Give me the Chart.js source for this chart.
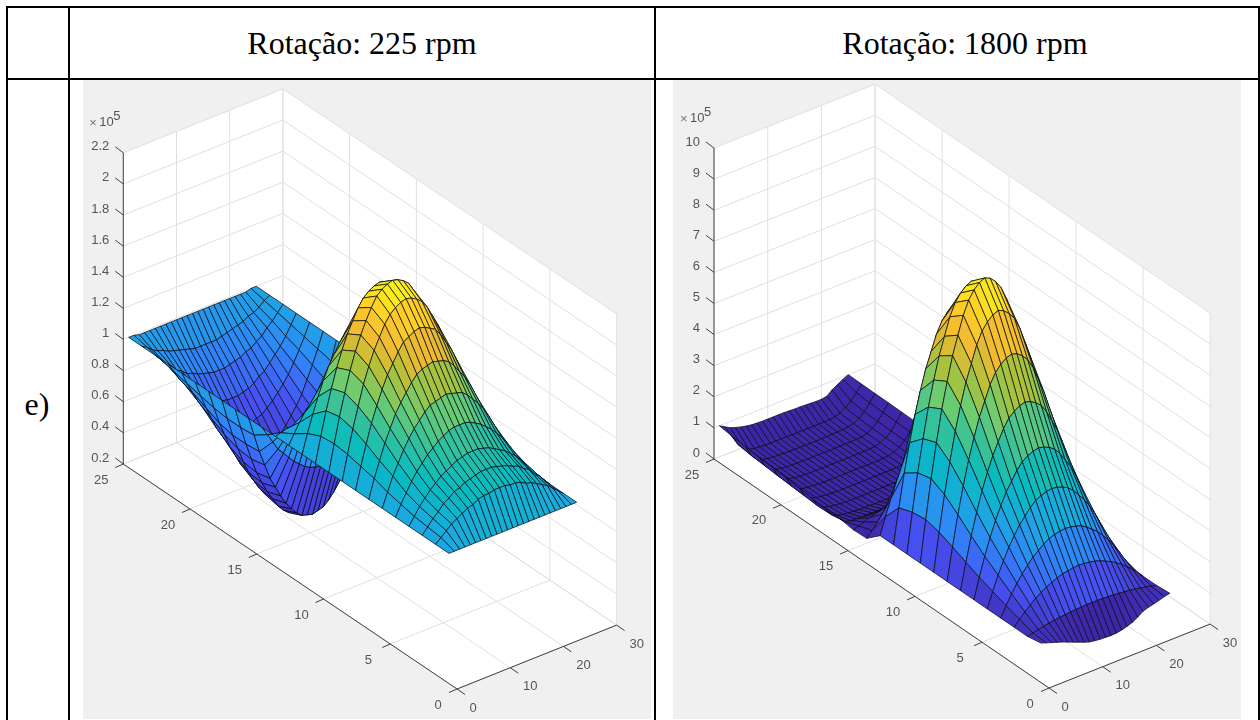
<!DOCTYPE html>
<html>
<head>
<meta charset="utf-8">
<script src="https://cdn.jsdelivr.net/npm/chart.js@4/dist/chart.umd.min.js"></script>
<style>
  html, body { margin: 0; padding: 0; background: #fff; width: 1260px; height: 720px; overflow: hidden; }
  .line { position: absolute; background: #000; }
  .label { position: absolute; font-family: "Liberation Serif", serif; color: #000; white-space: nowrap; text-align: center; }
  canvas { position: absolute; }
</style>
</head>
<body>
<div class="line" style="left:6px;top:6px;width:1254px;height:2px"></div>
<div class="line" style="left:6px;top:78px;width:1254px;height:2px"></div>
<div class="line" style="left:6px;top:6px;width:2px;height:714px"></div>
<div class="line" style="left:68px;top:6px;width:2px;height:714px"></div>
<div class="line" style="left:654px;top:6px;width:2px;height:714px"></div>
<div class="line" style="left:1258px;top:6px;width:2px;height:714px"></div>
<div class="label" style="left:70px;width:584px;top:25px;font-size:32px;line-height:36px">Rotação: 225 rpm</div>
<div class="label" style="left:664px;width:602px;top:25px;font-size:32px;line-height:36px">Rotação: 1800 rpm</div>
<div class="label" style="left:7px;width:60px;top:386px;font-size:32px;line-height:36px">e)</div>
<canvas id="chart225" width="568" height="639" style="left:83px;top:80px"></canvas>
<canvas id="chart1800" width="568" height="639" style="left:673px;top:80px"></canvas>
<script>
// grid positions
const xValues = [1,2,3,4,5,6,7,8,9,10,11,12,13,14,15,16,17,18,19,20,21,22,23,24,25];
const yValues = [1,2,3,4,5,6,7,8,9,10,11,12,13,14,15,16,17,18,19,20,21,22,23,24,25];

// heights, x 10^5, one row per y value
const pressure225 = [
  [1,1,1,1,1,1,1,1,1,1,1,1,1,1,1,1,1,1,1,1,1,1,1,1,1],
  [1,1.03,1.06,1.09,1.11,1.13,1.15,1.16,1.18,1.19,1.19,1.2,1.2,1.2,1.19,1.19,1.18,1.16,1.15,1.13,1.11,1.09,1.06,1.03,1],
  [1,1.04,1.08,1.11,1.15,1.17,1.2,1.21,1.23,1.24,1.25,1.26,1.26,1.26,1.25,1.24,1.23,1.21,1.2,1.17,1.15,1.11,1.08,1.04,1],
  [1,1.05,1.1,1.14,1.18,1.21,1.24,1.26,1.28,1.3,1.31,1.32,1.32,1.32,1.31,1.3,1.28,1.26,1.24,1.21,1.18,1.14,1.1,1.05,1],
  [1,1.07,1.13,1.19,1.24,1.28,1.32,1.35,1.38,1.4,1.42,1.43,1.43,1.43,1.42,1.4,1.38,1.35,1.32,1.28,1.24,1.19,1.13,1.07,1],
  [1,1.09,1.18,1.25,1.32,1.38,1.43,1.47,1.51,1.54,1.55,1.56,1.57,1.56,1.55,1.54,1.51,1.47,1.43,1.38,1.32,1.25,1.18,1.09,1],
  [1,1.12,1.22,1.32,1.4,1.48,1.54,1.59,1.64,1.68,1.7,1.71,1.72,1.71,1.7,1.68,1.64,1.59,1.54,1.48,1.4,1.32,1.22,1.12,1],
  [1,1.14,1.27,1.39,1.49,1.58,1.66,1.72,1.78,1.83,1.85,1.87,1.88,1.87,1.85,1.83,1.78,1.72,1.66,1.58,1.49,1.39,1.27,1.14,1],
  [1,1.16,1.31,1.44,1.57,1.67,1.76,1.83,1.9,1.95,1.98,2,2.01,2,1.98,1.95,1.9,1.83,1.76,1.67,1.57,1.44,1.31,1.16,1],
  [1,1.17,1.33,1.47,1.6,1.71,1.8,1.88,1.95,2.01,2.04,2.06,2.07,2.06,2.04,2.01,1.95,1.88,1.8,1.71,1.6,1.47,1.33,1.17,1],
  [1,1.16,1.31,1.44,1.56,1.66,1.75,1.82,1.89,1.94,1.97,1.99,2,1.99,1.97,1.94,1.89,1.82,1.75,1.66,1.56,1.44,1.31,1.16,1],
  [1,1.12,1.23,1.33,1.42,1.5,1.56,1.62,1.67,1.71,1.73,1.74,1.75,1.74,1.73,1.71,1.67,1.62,1.56,1.5,1.42,1.33,1.23,1.12,1],
  [1,1.06,1.12,1.17,1.21,1.25,1.29,1.31,1.34,1.36,1.37,1.38,1.38,1.38,1.37,1.36,1.34,1.31,1.29,1.25,1.21,1.17,1.12,1.06,1],
  [1,1.01,1.02,1.02,1.03,1.03,1.04,1.04,1.04,1.05,1.05,1.05,1.05,1.05,1.05,1.05,1.04,1.04,1.04,1.03,1.03,1.02,1.02,1.01,1],
  [1,.94,.88,.82,.78,.74,.7,.67,.64,.62,.61,.6,.6,.6,.61,.62,.64,.67,.7,.74,.78,.82,.88,.94,1],
  [1,.88,.76,.66,.56,.49,.42,.36,.31,.27,.24,.23,.22,.23,.24,.27,.31,.36,.42,.49,.56,.66,.76,.88,1],
  [1,.87,.75,.64,.54,.46,.39,.33,.27,.23,.2,.19,.18,.19,.2,.23,.27,.33,.39,.46,.54,.64,.75,.87,1],
  [1,.87,.75,.65,.55,.47,.4,.34,.29,.25,.22,.21,.2,.21,.22,.25,.29,.34,.4,.47,.55,.65,.75,.87,1],
  [1,.88,.77,.68,.59,.52,.45,.4,.35,.31,.29,.28,.27,.28,.29,.31,.35,.4,.45,.52,.59,.68,.77,.88,1],
  [1,.9,.81,.73,.65,.59,.54,.49,.45,.42,.4,.39,.38,.39,.4,.42,.45,.49,.54,.59,.65,.73,.81,.9,1],
  [1,.92,.85,.78,.72,.67,.63,.59,.56,.53,.52,.5,.5,.5,.52,.53,.56,.59,.63,.67,.72,.78,.85,.92,1],
  [1,.94,.88,.83,.79,.75,.71,.69,.66,.64,.63,.62,.62,.62,.63,.64,.66,.69,.71,.75,.79,.83,.88,.94,1],
  [1,.96,.92,.89,.85,.83,.8,.79,.77,.76,.75,.74,.74,.74,.75,.76,.77,.79,.8,.83,.85,.89,.92,.96,1],
  [1,.98,.95,.93,.92,.9,.89,.88,.87,.86,.85,.85,.85,.85,.85,.86,.87,.88,.89,.9,.92,.93,.95,.98,1],
  [1,1,.99,.99,.99,.99,.99,.99,.99,.99,.99,.99,.99,.99,.99,.99,.99,.99,.99,.99,.99,.99,.99,1,1]
];

const pressure1800 = [
  [1.08,1.02,.96,.9,.84,.77,.7,.63,.56,.5,.47,.45,.44,.43,.44,.47,.52,.58,.68,.8,.86,.9,.95,1,1.04],
  [1,1.04,1.08,1.12,1.15,1.18,1.2,1.22,1.24,1.25,1.26,1.27,1.27,1.27,1.26,1.25,1.24,1.22,1.2,1.18,1.15,1.12,1.08,1.04,1],
  [1,1.19,1.36,1.51,1.66,1.77,1.88,1.96,2.04,2.1,2.13,2.16,2.17,2.16,2.13,2.1,2.04,1.96,1.88,1.77,1.66,1.51,1.36,1.19,1],
  [1,1.33,1.64,1.91,2.15,2.36,2.55,2.69,2.83,2.94,3,3.04,3.06,3.04,3,2.94,2.83,2.69,2.55,2.36,2.15,1.91,1.64,1.33,1],
  [1,1.49,1.95,2.34,2.71,3.01,3.29,3.5,3.71,3.87,3.96,4.02,4.05,4.02,3.96,3.87,3.71,3.5,3.29,3.01,2.71,2.34,1.95,1.49,1],
  [1,1.65,2.26,2.79,3.27,3.68,4.05,4.33,4.61,4.82,4.94,5.02,5.06,5.02,4.94,4.82,4.61,4.33,4.05,3.68,3.27,2.79,2.26,1.65,1],
  [1,1.84,2.62,3.31,3.93,4.46,4.93,5.3,5.66,5.93,6.08,6.19,6.24,6.19,6.08,5.93,5.66,5.3,4.93,4.46,3.93,3.31,2.62,1.84,1],
  [1,2.04,3.01,3.86,4.63,5.28,5.87,6.32,6.78,7.1,7.3,7.43,7.49,7.43,7.3,7.1,6.78,6.32,5.87,5.28,4.63,3.86,3.01,2.04,1],
  [1,2.22,3.36,4.34,5.26,6.02,6.7,7.23,7.76,8.14,8.37,8.52,8.6,8.52,8.37,8.14,7.76,7.23,6.7,6.02,5.26,4.34,3.36,2.22,1],
  [1,2.33,3.58,4.67,5.68,6.5,7.26,7.85,8.42,8.84,9.1,9.27,9.35,9.27,9.1,8.84,8.42,7.85,7.26,6.5,5.68,4.67,3.58,2.33,1],
  [1,2.27,3.47,4.5,5.45,6.25,6.96,7.52,8.08,8.47,8.71,8.87,8.95,8.87,8.71,8.47,8.08,7.52,6.96,6.25,5.45,4.5,3.47,2.27,1],
  [1,2.12,3.17,4.08,4.92,5.62,6.25,6.74,7.23,7.58,7.79,7.93,8,7.93,7.79,7.58,7.23,6.74,6.25,5.62,4.92,4.08,3.17,2.12,1],
  [1,1.54,2.05,2.5,2.9,3.24,3.55,3.79,4.03,4.2,4.3,4.37,4.4,4.37,4.3,4.2,4.03,3.79,3.55,3.24,2.9,2.5,2.05,1.54,1],
  [.62,.8,1,1.2,1.4,1.55,1.7,1.85,1.95,2.05,2.12,2.18,2.2,2.18,2.12,2.05,1.95,1.85,1.7,1.55,1.4,1.2,1,.85,.95],
  [.6,.65,.72,.78,.83,.87,.9,.93,.95,.96,.97,.97,.97,.97,.97,.96,.95,.93,.9,.87,.83,.78,.72,.8,.95],
  [.66,.5,.46,.45,.44,.44,.44,.43,.43,.42,.42,.42,.42,.42,.42,.42,.43,.43,.44,.44,.45,.48,.56,.72,.95],
  [.65,.42,.34,.3,.28,.26,.25,.24,.24,.23,.23,.23,.23,.23,.23,.23,.24,.24,.25,.26,.28,.34,.48,.7,.95],
  [.7,.4,.3,.26,.23,.21,.2,.2,.19,.19,.19,.19,.19,.19,.19,.19,.19,.2,.2,.21,.25,.33,.48,.7,.95],
  [.75,.43,.31,.25,.22,.2,.19,.18,.18,.18,.18,.18,.18,.18,.18,.18,.18,.18,.19,.2,.24,.33,.48,.7,.96],
  [.8,.46,.32,.25,.22,.2,.19,.18,.18,.18,.18,.18,.18,.18,.18,.18,.18,.18,.19,.2,.25,.34,.49,.7,.96],
  [.83,.49,.34,.27,.23,.21,.2,.19,.19,.19,.19,.19,.19,.19,.19,.19,.19,.19,.2,.21,.26,.35,.5,.72,.97],
  [.86,.53,.36,.28,.24,.22,.21,.2,.2,.2,.2,.2,.2,.2,.2,.2,.2,.2,.21,.22,.27,.36,.51,.73,.98],
  [.9,.56,.38,.3,.26,.24,.23,.22,.22,.21,.21,.2,.2,.2,.21,.21,.22,.22,.23,.25,.29,.38,.53,.75,.98],
  [.94,.62,.43,.33,.29,.27,.26,.25,.25,.25,.25,.25,.25,.25,.25,.25,.25,.25,.26,.28,.33,.43,.58,.78,.99],
  [1,.9,.8,.74,.69,.65,.62,.61,.6,.6,.6,.6,.6,.59,.58,.58,.57,.56,.55,.55,.58,.72,.82,.92,1]
];

// axis ticks
const xTicks = [0, 10, 20, 30];
const yTicks = [0, 5, 10, 15, 20, 25];
const zTicks225 = [0.2, 0.4, 0.6, 0.8, 1, 1.2, 1.4, 1.6, 1.8, 2, 2.2];
const zTicks1800 = [0, 1, 2, 3, 4, 5, 6, 7, 8, 9, 10];
const zTickLabels225 = ["0.2", "0.4", "0.6", "0.8", "1", "1.2", "1.4", "1.6", "1.8", "2", "2.2"];
const zTickLabels1800 = ["0", "1", "2", "3", "4", "5", "6", "7", "8", "9", "10"];

// parula colormap stops
const parula = [[62,38,168],[71,82,244],[46,135,247],[27,170,223],[6,187,192],[53,193,155],[110,204,112],[172,193,58],[240,185,50],[252,205,40],[249,251,21]];
// height -> colormap position
const colorZ225 = [0.2, 0.6, 1, 1.4, 2.07];
const colorT225 = [0.02, 0.1, 0.28, 0.52, 1];
const colorZ1800 = [0.85, 9.35];
const colorT1800 = [0, 1];

function lerpTable(v, xs, ys) {
  if (v <= xs[0]) return ys[0];
  for (let i = 1; i < xs.length; i++) {
    if (v <= xs[i]) return ys[i - 1] + (ys[i] - ys[i - 1]) * (v - xs[i - 1]) / (xs[i] - xs[i - 1]);
  }
  return ys[ys.length - 1];
}

function parulaColor(t) {
  const p = Math.min(0.9999, Math.max(0, t)) * (parula.length - 1);
  const i = Math.floor(p), f = p - i;
  const c = parula[i].map((v, k) => Math.round(v + (parula[i + 1][k] - v) * f));
  return "rgb(" + c.join(",") + ")";
}

function makeSurface(id, cfg) {
  const project = (x, y, z) => [
    cfg.ax + x * cfg.ux + (25 - y) * cfg.vx,
    cfg.ay + x * cfg.uy + (25 - y) * cfg.vy - (z - cfg.zMin) * cfg.zPx
  ];
  const points = [];
  yValues.forEach((y, j) => xValues.forEach((x, i) => {
    const p = project(x, y, cfg.rows[j][i]);
    points.push({ x: p[0], y: p[1] });
  }));

  const surfacePlugin = {
    id: "surface3d",
    beforeDatasetsDraw(chart) {
      const ctx = chart.ctx, sx = chart.scales.x, sy = chart.scales.y;
      const at = (x, y, z) => {
        const p = project(x, y, z);
        return [sx.getPixelForValue(p[0]), sy.getPixelForValue(p[1])];
      };
      const poly = (pts) => {
        ctx.beginPath();
        pts.forEach((p, i) => i ? ctx.lineTo(p[0], p[1]) : ctx.moveTo(p[0], p[1]));
      };
      const seg = (a, b) => { poly([a, b]); ctx.stroke(); };
      const zLo = cfg.zTicks[0], zHi = cfg.zTicks[cfg.zTicks.length - 1];

      ctx.save();
      ctx.fillStyle = "#f0f0f0";
      ctx.fillRect(0, 0, chart.width, chart.height);

      // box panes
      ctx.fillStyle = "#fff";
      poly([at(0, 25, zLo), at(0, 25, zHi), at(30, 25, zHi), at(30, 0, zHi), at(30, 0, zLo), at(0, 0, zLo)]);
      ctx.closePath();
      ctx.fill();

      // grid
      ctx.strokeStyle = "#e0e0e0";
      ctx.lineWidth = 1;
      cfg.zTicks.forEach(z => {
        seg(at(0, 25, z), at(30, 25, z));
        seg(at(30, 25, z), at(30, 0, z));
      });
      xTicks.forEach(x => {
        seg(at(x, 25, zLo), at(x, 25, zHi));
        seg(at(x, 25, zLo), at(x, 0, zLo));
      });
      yTicks.forEach(y => {
        seg(at(30, y, zLo), at(30, y, zHi));
        seg(at(0, y, zLo), at(30, y, zLo));
      });

      // axes
      ctx.strokeStyle = "#404040";
      seg(at(0, 25, zLo), at(0, 25, zHi));
      seg(at(0, 25, zLo), at(0, 0, zLo));
      seg(at(0, 0, zLo), at(30, 0, zLo));
      ctx.font = cfg.fontPx + 'px "Liberation Sans", sans-serif';
      ctx.fillStyle = "#555";
      ctx.textBaseline = "middle";
      cfg.zTicks.forEach((z, i) => {
        const p = at(0, 25, z);
        seg(p, [p[0] - 8, p[1] - 6]);
        ctx.textAlign = "right";
        ctx.fillText(cfg.zLabels[i], p[0] - 14, p[1] - 6);
      });
      ctx.textAlign = "center";
      yTicks.forEach(y => {
        const p = at(0, y, zLo);
        seg(p, [p[0] - 8, p[1] + 3.5]);
        ctx.fillText(String(y), p[0] - (y === 0 ? 19 : 22), p[1] + 16);
      });
      xTicks.forEach(x => {
        const p = at(x, 0, zLo);
        seg(p, [p[0] + 8, p[1] + 5.5]);
        ctx.fillText(String(x), p[0] + (x === 0 ? 16 : 20), p[1] + 19);
      });

      // exponent
      const top = at(0, 25, zHi);
      ctx.textAlign = "left";
      ctx.fillStyle = "#777";
      ctx.fillText("×", top[0] - 34, top[1] - 29);
      ctx.fillStyle = "#555";
      ctx.fillText("10", top[0] - 24, top[1] - 30);
      ctx.fillText("5", top[0] - 10, top[1] - 36);

      // surface, far quads first
      ctx.lineJoin = "round";
      ctx.lineWidth = 0.9;
      ctx.strokeStyle = "rgba(10,10,20,0.8)";
      for (let j = yValues.length - 2; j >= 0; j--) {
        for (let i = xValues.length - 2; i >= 0; i--) {
          const z00 = cfg.rows[j][i], z10 = cfg.rows[j][i + 1];
          const z01 = cfg.rows[j + 1][i], z11 = cfg.rows[j + 1][i + 1];
          const t = lerpTable((z00 + z10 + z01 + z11) / 4, cfg.colorZ, cfg.colorT);
          poly([
            at(xValues[i], yValues[j], z00),
            at(xValues[i + 1], yValues[j], z10),
            at(xValues[i + 1], yValues[j + 1], z11),
            at(xValues[i], yValues[j + 1], z01)
          ]);
          ctx.closePath();
          ctx.fillStyle = parulaColor(t);
          ctx.fill();
          ctx.stroke();
        }
      }
      ctx.restore();
    }
  };

  return new Chart(document.getElementById(id), {
    type: "scatter",
    data: { datasets: [{ data: points, pointRadius: 0, showLine: false }] },
    options: {
      responsive: false,
      animation: false,
      layout: { padding: 0 },
      plugins: { legend: { display: false }, tooltip: { enabled: false } },
      scales: {
        x: { display: false, min: cfg.left, max: cfg.left + 568 },
        y: { display: false, min: 80, max: 719, reverse: true }
      }
    },
    plugins: [surfacePlugin]
  });
}

makeSurface("chart225", {
  rows: pressure225, zTicks: zTicks225, zLabels: zTickLabels225, colorZ: colorZ225, colorT: colorT225,
  left: 83, ax: 123.3, ay: 464, ux: 5.32, uy: -2.13, vx: 13.35, vy: 9, zPx: 155.6, zMin: 0.2, fontPx: 13
});
makeSurface("chart1800", {
  rows: pressure1800, zTicks: zTicks1800, zLabels: zTickLabels1800, colorZ: colorZ1800, colorT: colorT1800,
  left: 673, ax: 714, ay: 459, ux: 5.37, uy: -2.13, vx: 13.4, vy: 9.16, zPx: 31.1, zMin: 0, fontPx: 13
});
</script>
</body>
</html>
